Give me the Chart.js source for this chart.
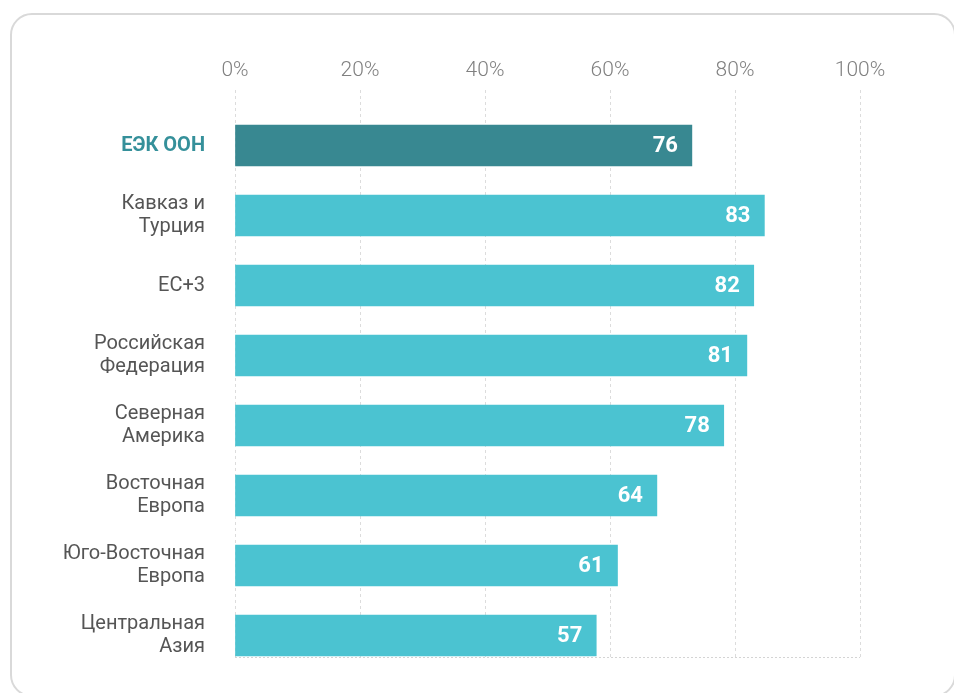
<!DOCTYPE html>
<html lang="ru">
<head>
<meta charset="utf-8">
<title>ЕЭК ООН</title>
<script src="https://cdn.jsdelivr.net/npm/chart.js@4.4.1/dist/chart.umd.min.js"></script>
<style>
  html, body { margin: 0; padding: 0; background: #fff; }
  body { width: 954px; height: 693px; overflow: hidden; position: relative; }
  .card {
    position: absolute; left: 10px; top: 13px;
    width: 946px; height: 684px; box-sizing: border-box;
    border: 2.5px solid #d9d9d9; border-radius: 22px;
  }
  .wrap { position: absolute; left: 0; top: 0; width: 954px; height: 693px; }
</style>
</head>
<body>
<div class="card"></div>
<div class="wrap"><canvas id="chart"></canvas></div>
<script>
// categories, top to bottom
const regions = [
  'ЕЭК ООН',
  ['Кавказ и', 'Турция'],
  'ЕС+3',
  ['Российская', 'Федерация'],
  ['Северная', 'Америка'],
  ['Восточная', 'Европа'],
  ['Юго-Восточная', 'Европа'],
  ['Центральная', 'Азия']
];
// bar lengths as drawn (%) and the numbers printed on the bars
const barValues = [73.1, 84.7, 83.0, 81.9, 78.2, 67.5, 61.2, 57.8];
const shownValues = [76, 83, 82, 81, 78, 64, 61, 57];
const xTicks = [0, 20, 40, 60, 80, 100];

const dark = '#388891';
const light = '#4bc3d1';

// white numbers at the right end of each bar
const valueLabels = {
  id: 'valueLabels',
  afterDatasetsDraw(chart) {
    const ctx = chart.ctx;
    const meta = chart.getDatasetMeta(0);
    ctx.save();
    ctx.font = 'bold 22px Roboto';
    ctx.fillStyle = '#fff';
    ctx.textAlign = 'right';
    ctx.textBaseline = 'middle';
    meta.data.forEach((bar, i) => {
      ctx.fillText(String(shownValues[i]), bar.x - 14, bar.y + 1);
    });
    ctx.restore();
  }
};

const yMin = -0.793;
const yMax = 7.307;

new Chart(document.getElementById('chart'), {
  type: 'bar',
  data: {
    datasets: [{
      data: barValues.map((v, i) => ({ x: v, y: i })),
      backgroundColor: barValues.map((v, i) => i === 0 ? dark : light),
      barThickness: 41
    }]
  },
  options: {
    indexAxis: 'y',
    responsive: true,
    maintainAspectRatio: false,
    animation: false,
    layout: { padding: { top: 0, left: 0, right: 94, bottom: 36 } },
    plugins: { legend: { display: false }, tooltip: { enabled: false } },
    scales: {
      x: {
        position: 'top',
        min: 0, max: 100,
        afterBuildTicks: s => { s.ticks = xTicks.map(v => ({ value: v })); },
        afterFit: s => { s.height = 90; },
        grid: { color: '#dcdcdc', lineWidth: 1, drawTicks: false },
        border: { display: false, dash: [3, 3] },
        ticks: {
          padding: 7,
          color: '#808080',
          font: { family: 'Roboto', size: 21, weight: 300 },
          callback: v => v + '%'
        }
      },
      y: {
        type: 'linear',
        reverse: true,
        offset: false,
        min: yMin, max: yMax,
        afterBuildTicks: s => {
          s.ticks = regions.map((r, i) => ({ value: i })).concat([{ value: yMax }]);
        },
        afterFit: s => {
          s.width = 235;
          s.paddingTop = 0;
          s.paddingBottom = 0;
        },
        grid: {
          offset: false,
          drawTicks: false,
          color: c => c.tick && c.tick.value === yMax ? '#d4d4d4' : 'rgba(0,0,0,0)'
        },
        border: { display: false, dash: [2, 2] },
        ticks: {
          autoSkip: false,
          padding: 30,
          callback: v => regions[v] !== undefined ? regions[v] : '',
          color: c => c.index === 0 ? '#35909a' : '#555555',
          font: c => ({
            family: 'Roboto', size: 20, lineHeight: 1.15,
            weight: c.index === 0 ? 'bold' : 'normal'
          })
        }
      }
    }
  },
  plugins: [valueLabels]
});
</script>
</body>
</html>
